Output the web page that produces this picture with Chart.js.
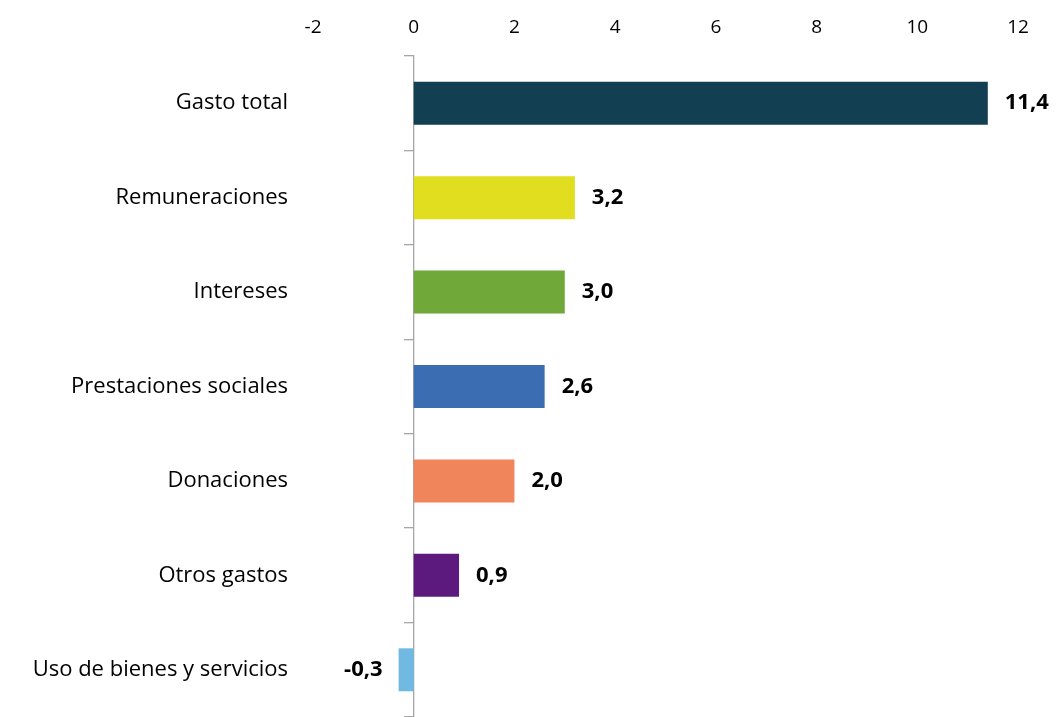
<!DOCTYPE html>
<html>
<head>
<meta charset="utf-8">
<script src="https://cdn.jsdelivr.net/npm/chart.js@4.4.1/dist/chart.umd.min.js"></script>
<style>
  html, body { margin: 0; padding: 0; background: #fff; }
  #wrap { width: 1056px; height: 717px; }
</style>
</head>
<body>
<div id="wrap"><canvas id="chart"></canvas></div>
<script>
// Data
const categories = ['Gasto total', 'Remuneraciones', 'Intereses', 'Prestaciones sociales', 'Donaciones', 'Otros gastos', 'Uso de bienes y servicios'];
const values = [11.4, 3.2, 3.0, 2.6, 2.0, 0.9, -0.3];
const barColors = ['#123F52', '#E0DE1F', '#70A83A', '#3B6DB3', '#F0845A', '#5C1A7E', '#6FB9E3'];
const xTicks = [-2, 0, 2, 4, 6, 8, 10, 12];

const fontFamily = '"Open Sans", Lato, sans-serif';

// Draws the value next to each bar
const valueLabels = {
    id: 'valueLabels',
    afterDatasetsDraw(chart) {
        const ctx = chart.ctx;
        const meta = chart.getDatasetMeta(0);
        ctx.save();
        ctx.font = 'bold 22px ' + fontFamily;
        ctx.fillStyle = '#000';
        ctx.textBaseline = 'middle';
        meta.data.forEach((bar, i) => {
            const v = values[i];
            const text = v.toFixed(1).replace('.', ',');
            if (v >= 0) {
                ctx.textAlign = 'left';
                ctx.fillText(text, bar.x + 17, bar.y);
            } else {
                ctx.textAlign = 'right';
                ctx.fillText(text, bar.x - 16, bar.y);
            }
        });
        ctx.restore();
    }
};

// no extra room above/below the category axes
function noVerticalPadding(scale) {
    scale.paddingTop = 0;
    scale.paddingBottom = 0;
}

new Chart(document.getElementById('chart'), {
    type: 'bar',
    data: {
        labels: categories,
        datasets: [{
            data: values,
            backgroundColor: barColors,
            barPercentage: 0.455,
            categoryPercentage: 1
        }]
    },
    options: {
        indexAxis: 'y',
        responsive: true,
        maintainAspectRatio: false,
        animation: false,
        layout: { padding: { top: 0, right: 38, bottom: 0, left: 0 } },
        plugins: {
            legend: { display: false },
            tooltip: { enabled: false }
        },
        scales: {
            x: {
                position: 'top',
                min: -2,
                max: 12,
                afterBuildTicks: (scale) => { scale.ticks = xTicks.map(v => ({ value: v })); },
                afterFit: (scale) => { scale.height = 56; },
                grid: { display: false },
                border: { display: false },
                ticks: {
                    color: '#000',
                    padding: 9,
                    font: { family: fontFamily, size: 19 }
                }
            },
            y: {
                position: 'left',
                afterFit: (scale) => { scale.width = 313; noVerticalPadding(scale); },
                grid: { display: false },
                border: { display: false },
                ticks: {
                    color: '#000',
                    padding: 17,
                    font: { family: fontFamily, size: 22 }
                }
            },
            y2: {
                axis: 'y',
                type: 'category',
                labels: categories,
                position: { x: 0 },
                offset: true,
                afterFit: noVerticalPadding,
                grid: { offset: true, drawOnChartArea: false, tickLength: 9, color: '#a6a6a6', lineWidth: 1.3 },
                border: { display: true, color: '#a6a6a6', width: 1.3 },
                ticks: { display: false }
            }
        }
    },
    plugins: [valueLabels]
});
</script>
</body>
</html>
